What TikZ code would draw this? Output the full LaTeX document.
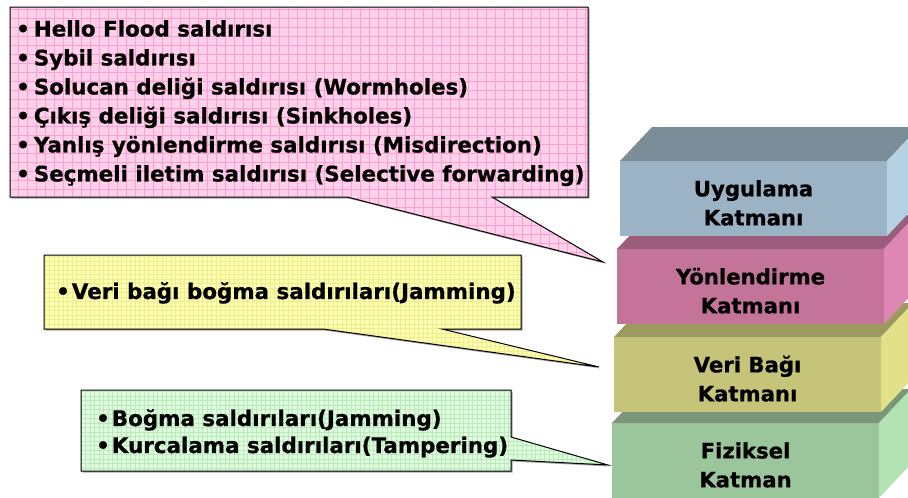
\documentclass[tikz,border=0pt]{standalone}
\usepackage{fontspec}
\setmainfont{DejaVu Sans}[BoldFeatures={FakeBold=0.8}]
\usetikzlibrary{calc}

% layer colours: front, top, side
\definecolor{uygF}{HTML}{9BB3C4}\definecolor{uygT}{HTML}{7B8D98}\definecolor{uygS}{HTML}{B5D1E3}
\definecolor{yonF}{HTML}{C47499}\definecolor{yonT}{HTML}{9B5D7B}\definecolor{yonS}{HTML}{DF87B4}
\definecolor{veriF}{HTML}{C6C479}\definecolor{veriT}{HTML}{9C9A5F}\definecolor{veriS}{HTML}{E2E089}
\definecolor{fizF}{HTML}{9BC59B}\definecolor{fizT}{HTML}{7A977A}\definecolor{fizS}{HTML}{B3E3B3}
% callout colours
\definecolor{pinkbg}{HTML}{FFD0EA}\definecolor{pinkln}{HTML}{FF9ED2}
\definecolor{yelbg}{HTML}{FFFFB4}\definecolor{yelln}{HTML}{EEEC8C}
\definecolor{grnbg}{HTML}{DDFDDD}\definecolor{grnln}{HTML}{BDE8BD}

\newcommand\blt[1][4pt]{\textbullet\hspace{#1}}
% top and side faces of a layer block
\newcommand\layerfaces[3]{%
  \fill[#2] (#1.north west) -- ++(32,-34) -- ++(267,0) -- (#1.north east) -- cycle;
  \fill[#3] (#1.north east) -- ++(32,-34) -- ++(0,75) -- (#1.south east) -- cycle;}
% grid texture for the callouts
\newcommand\gridfill[2]{%
  \foreach \g in {0,#2,...,908} {\draw[#1, line width=0.5pt] (\g,0) -- (\g,498);}
  \foreach \g in {0,#2,...,498} {\draw[#1, line width=0.5pt] (0,\g) -- (908,\g);}}

\begin{document}
\begin{tikzpicture}[x=1pt,y=-1pt,
  layer/.style={rectangle, inner sep=0pt, outer sep=0pt, minimum width=267pt,
    minimum height=75pt, anchor=north west, align=center,
    font=\fontsize{21.2}{29}\selectfont\bfseries},
  calloutbox/.style={rectangle, inner sep=0pt, outer sep=0pt, anchor=north west},
  callouttext/.style={inner sep=0pt, anchor=north west, align=left,
    font=\fontsize{21.4}{29}\selectfont\bfseries},
  bubble/.style={draw=black, line width=1pt, line join=miter,
    preaction={fill=black!35, transform canvas={shift={(1.5pt,-1.5pt)}}}},
]
\useasboundingbox (0,0) rectangle (908,498);

% ---- layer stack, bottom to top ----
\node[layer, fill=fizF] (fiz) at (612,423) {\rule{0pt}{25pt}Fiziksel\\Katman};
\layerfaces{fiz}{fizT}{fizS}
\node[layer, fill=veriF] (veri) at (614,337) {\rule{0pt}{25pt}Veri Bağı\\Katmanı};
\layerfaces{veri}{veriT}{veriS}
\node[layer, fill=yonF] (yon) at (617,249) {\rule{0pt}{25pt}Yönlendirme\\Katmanı};
\layerfaces{yon}{yonT}{yonS}
\node[layer, fill=uygF] (uyg) at (620,161) {\rule{0pt}{25pt}Uygulama\\Katmanı};
\layerfaces{uyg}{uygT}{uygS}

% ---- network layer attacks ----
\node[calloutbox, minimum width=578pt, minimum height=190pt] (pinkbox) at (10,7) {};
\coordinate (pinktip) at ($(yon.north west)+(-14,13)$);
\path[bubble, fill=pinkbg, path picture={\gridfill{pinkln}{9}}]
  (pinkbox.north west) -- (pinkbox.north east) -- (pinkbox.south east)
  -- ($(pinkbox.south west)+(482,0)$) -- (pinktip)
  -- ($(pinkbox.south west)+(337,0)$) -- (pinkbox.south west) -- cycle;
\node[callouttext] (pinktext) at ($(pinkbox.north west)+(6,13)$) {%
  \rule{0pt}{16pt}\blt Hello Flood saldırısı\\
  \blt Sybil saldırısı\\
  \blt Solucan deliği saldırısı (Wormholes)\\
  \blt Çıkış deliği saldırısı (Sinkholes)\\
  \blt Yanlış yönlendirme saldırısı (Misdirection)\\
  \blt Seçmeli iletim saldırısı (Selective forwarding)};

% ---- data link layer attacks ----
\node[calloutbox, minimum width=477pt, minimum height=74pt] (yelbox) at (44,255) {};
\coordinate (yeltip) at ($(veri.north west)+(-15,30)$);
\path[bubble, fill=yelbg, path picture={\gridfill{yelln}{4.5}}]
  (yelbox.north west) -- (yelbox.north east) -- (yelbox.south east)
  -- ($(yelbox.south west)+(398,0)$) -- (yeltip)
  -- ($(yelbox.south west)+(279,0)$) -- (yelbox.south west) -- cycle;
\node[callouttext] (yeltext) at ($(yelbox.north west)+(12,27)$) {%
  \rule{0pt}{16pt}\blt[2pt]Veri bağı boğma saldırıları(Jamming)};

% ---- physical layer attacks ----
\node[calloutbox, minimum width=430pt, minimum height=81pt] (grnbox) at (81,390) {};
\coordinate (grntip) at ($(fiz.north west)+(-4,42)$);
\path[bubble, fill=grnbg, path picture={\gridfill{grnln}{4.5}}]
  (grnbox.north west) -- (grnbox.north east) -- ($(grnbox.north east)+(0,47)$)
  -- (grntip) -- ($(grnbox.north east)+(0,70)$) -- (grnbox.south east)
  -- (grnbox.south west) -- cycle;
\node[callouttext] (grntext) at ($(grnbox.north west)+(15,19)$) {%
  \rule{0pt}{16pt}\blt[2pt]Boğma saldırıları(Jamming)\\[-2pt]
  \blt[2pt]Kurcalama saldırıları(Tampering)};
\end{tikzpicture}
\end{document}
